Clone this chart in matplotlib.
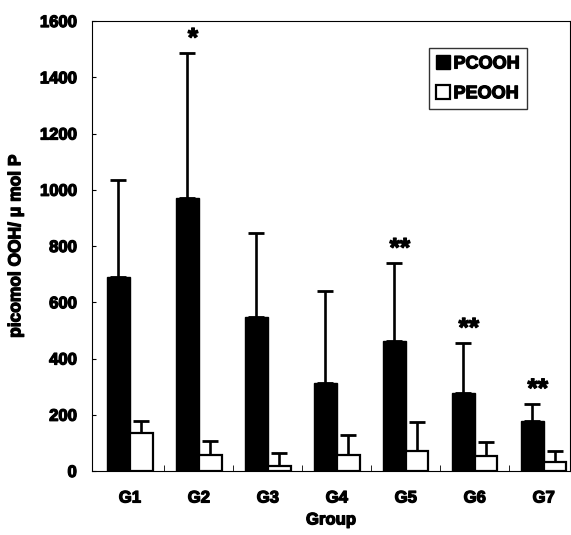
import numpy as np
import matplotlib
matplotlib.use('Agg')
import matplotlib.pyplot as plt
import matplotlib.patheffects as pe

groups = ['G1', 'G2', 'G3', 'G4', 'G5', 'G6', 'G7']
pcooh = [690, 970, 549, 314, 462, 279, 178]
pcooh_err = [345, 515, 296, 327, 276, 175, 60]
peooh = [134, 57, 19, 57, 71, 55, 31]
peooh_err = [45, 50, 46, 71, 102, 49, 40]
stars = ['', '*', '', '', '**', '**', '**']

plt.rcParams['font.family'] = ['Liberation Sans', 'DejaVu Sans']
plt.rcParams['font.weight'] = 'bold'
heavy = [pe.withStroke(linewidth=0.9, foreground='black')]

fig = plt.figure(figsize=(5.71, 5.35), dpi=100)
ax = fig.add_axes([0.161, 0.1196, 0.837, 0.8411])

x = np.arange(len(groups))
w = 0.33
ax.bar(x - w/2, pcooh, w, color='black', edgecolor='black', label='PCOOH', zorder=2)
ax.bar(x + w/2, peooh, w, color='white', edgecolor='black', linewidth=1.6, label='PEOOH', zorder=2)
ax.errorbar(x - w/2, pcooh, yerr=[np.zeros(len(x)), pcooh_err], fmt='none',
            ecolor='black', elinewidth=1.9, capsize=6, capthick=2, zorder=1)
ax.errorbar(x + w/2, peooh, yerr=[np.zeros(len(x)), peooh_err], fmt='none',
            ecolor='black', elinewidth=1.9, capsize=6, capthick=2, zorder=1)

for i, s in enumerate(stars):
    if s:
        ax.text(x[i] - w/2 + 0.08, pcooh[i] + pcooh_err[i] + 8, s,
                ha='center', va='bottom', fontsize=19, fontweight='bold',
                path_effects=heavy)

ax.set_ylim(0, 1600)
ax.set_xlim(-0.55, 6.38)
ax.set_yticks(np.arange(0, 1601, 200))
ax.set_xticks(x)
ax.set_xticklabels(groups)
ax.set_xticks(x[:-1] + 0.5, minor=True)
ax.tick_params(axis='x', which='major', length=0, pad=14, labelsize=12)
ax.tick_params(axis='x', which='minor', direction='in', length=4)
ax.tick_params(axis='y', direction='in', length=3, labelsize=12, pad=11)
for lbl in ax.get_xticklabels() + ax.get_yticklabels():
    lbl.set_fontweight('bold')
    lbl.set_path_effects(heavy)

ax.set_xlabel('Group', fontsize=12, fontweight='bold', labelpad=5,
              path_effects=heavy)
ax.set_ylabel('picomol OOH/ \u03bc mol P', fontsize=12.5, fontweight='bold',
              labelpad=12, path_effects=heavy)

leg = ax.legend(loc='upper right', bbox_to_anchor=(0.91, 0.94), fontsize=13,
                frameon=True, fancybox=False, edgecolor='black',
                handlelength=0.75, handleheight=0.8, handletextpad=0.2,
                borderpad=0.4, labelspacing=0.7, borderaxespad=0)
leg.get_frame().set_linewidth(1)
for t in leg.get_texts():
    t.set_fontweight('bold')
    t.set_path_effects(heavy)

fig.savefig('out.png', dpi=100)
